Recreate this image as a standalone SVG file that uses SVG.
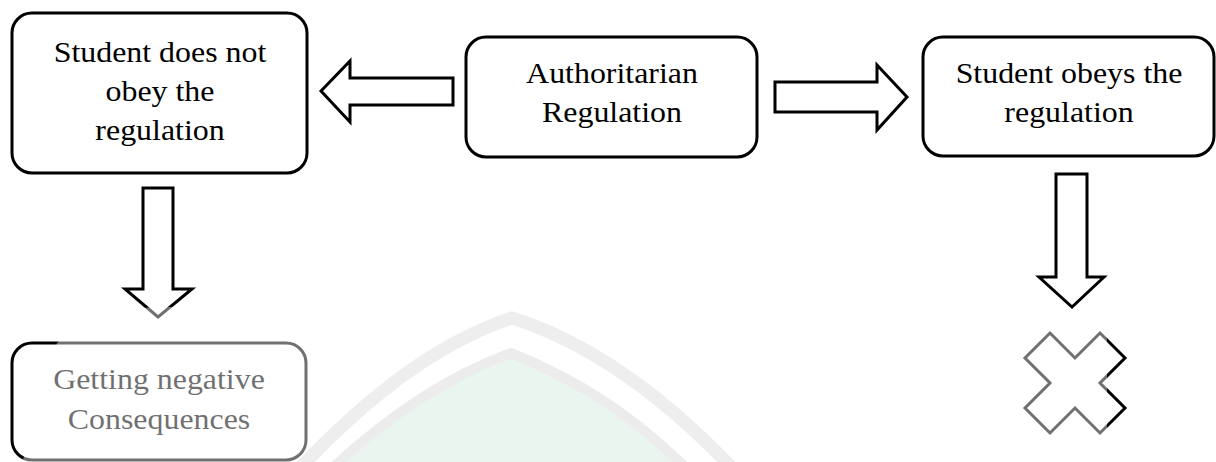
<svg xmlns="http://www.w3.org/2000/svg" width="1216" height="462" viewBox="0 0 1216 462">
  <style>
    .box { fill: #ffffff; stroke: #000000; stroke-width: 3; }
    .arrow { fill: #ffffff; stroke: #000000; stroke-width: 3; stroke-linejoin: miter; }
    .label { font-family: "Liberation Serif", "Times New Roman", serif; font-size: 29px; fill: #000000; text-anchor: middle; }
  </style>
  <rect x="0" y="0" width="1216" height="462" fill="#ffffff"/>

  <!-- nodes -->
  <g id="node-not-obey">
    <rect class="box" x="12" y="13" width="295" height="160" rx="20" ry="20"/>
    <text class="label" transform="translate(160 62) scale(1.1 1)">Student does not</text>
    <text class="label" transform="translate(160 101) scale(1.1 1)">obey the</text>
    <text class="label" transform="translate(160 140) scale(1.1 1)">regulation</text>
  </g>
  <g id="node-authoritarian">
    <rect class="box" x="466" y="37" width="291" height="120" rx="20" ry="20"/>
    <text class="label" transform="translate(612 83) scale(1.1 1)">Authoritarian</text>
    <text class="label" transform="translate(612 122) scale(1.1 1)">Regulation</text>
  </g>
  <g id="node-obeys">
    <rect class="box" x="923" y="37" width="291" height="119" rx="20" ry="20"/>
    <text class="label" transform="translate(1069 83) scale(1.1 1)">Student obeys the</text>
    <text class="label" transform="translate(1069 122) scale(1.1 1)">regulation</text>
  </g>
  <g id="node-consequences">
    <rect class="box" x="12" y="343" width="294" height="117" rx="20" ry="20"/>
    <text class="label" transform="translate(159 389) scale(1.1 1)">Getting negative</text>
    <text class="label" transform="translate(159 429) scale(1.1 1)">Consequences</text>
  </g>
  <g id="node-cross">
    <polygon class="arrow" points="1050,333 1075,358 1100,333 1125,358 1100,383 1125,408 1100,433 1075,408 1050,433 1025,408 1050,383 1025,358"/>
  </g>

  <!-- connectors: block arrows -->
  <g id="connectors">
    <polygon class="arrow" points="321,91 350,61 350,78 453,78 453,105 350,105 350,122"/>
    <polygon class="arrow" points="775,82 877,82 877,65 907,97 877,130 877,112 775,112"/>
    <polygon class="arrow" points="143,188 173,188 173,289 192,289 158,317 125,289 143,289"/>
    <polygon class="arrow" points="1056,174 1087,174 1087,277 1104,277 1072,307 1039,277 1056,277"/>
  </g>

  <!-- background emblem, faded over the lower part of the page -->
  <g id="emblem">
    <path d="M 20 470 L 57 343 C 80 318 120 307 165 307 L 1000 311 C 1070 312 1104 318 1107 340 L 1107 470 Z" fill="#ffffff" fill-opacity="0.44"/>
    <path d="M 330 470 C 395 410 452 375 511 353 C 572 378 628 410 688 470 Z" fill="#ebf5f0"/>
    <path d="M 330 470 C 395 410 452 375 511 353 C 572 378 628 410 688 470" fill="none" stroke="#ececec" stroke-width="10"/>
    <path d="M 298 470 C 372 392 440 342 512 318 C 588 342 660 392 734 470" fill="none" stroke="#eeeeee" stroke-width="13"/>
  </g>
</svg>
